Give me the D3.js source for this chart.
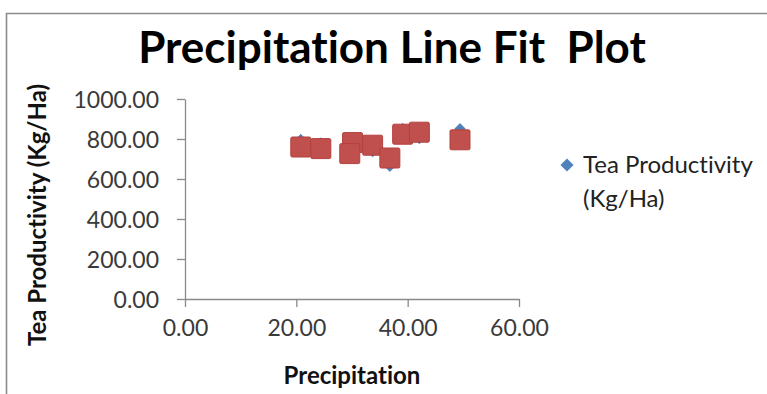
<!DOCTYPE html>
<html>
<head>
<meta charset="utf-8">
<script src="https://cdn.jsdelivr.net/npm/d3@7"></script>
<style>
  html, body { margin: 0; padding: 0; background: #fff; }
  svg { display: block; }
  text { font-variant-ligatures: none; font-feature-settings: "liga" 0, "clig" 0; }
</style>
</head>
<body>
<svg id="chart" width="767" height="394"></svg>
<script>
// Precipitation vs tea productivity: observed values and regression predictions
const precipitation = [20.8, 24.4, 30.1, 29.6, 33.7, 36.8, 39.1, 42.1, 49.4];
const teaProductivity = [797, 780, 772, 741, 737, 664, 852, 802, 851];
const predictedProductivity = [760, 752, 782, 727, 769, 705, 824, 834, 796];
const xTicks = [0, 20, 40, 60];
const yTicks = [0, 200, 400, 600, 800, 1000];
const titleText = "Precipitation Line Fit\u00a0 Plot";
const xTitle = "Precipitation";
const yTitle = "Tea Productivity (Kg/Ha)";
const legendLines = ["Tea Productivity", "(Kg/Ha)"];

const FONT = "Lato, 'Open Sans', sans-serif";
const svg = d3.select("#chart");

const x = d3.scaleLinear().domain([0, 60]).range([185, 519]);
const y = d3.scaleLinear().domain([0, 1000]).range([299, 99]);

// outer chart frame (top and left edges)
svg.append("path")
  .attr("d", "M6.5,394 L6.5,13.5 L767,13.5")
  .attr("fill", "none").attr("stroke", "#8c8c8c").attr("stroke-width", 1.6);

// title
svg.append("text")
  .attr("x", 392).attr("y", 63)
  .attr("text-anchor", "middle")
  .attr("font-family", FONT).attr("font-weight", 700)
  .attr("font-size", 44).attr("fill", "#000")
  .text(titleText);

// axes
const fmt = d3.format(".2f");
const yAxis = d3.axisLeft(y).tickValues(yTicks).tickFormat(fmt).tickSizeInner(8).tickSizeOuter(0).tickPadding(18);
const xAxis = d3.axisBottom(x).tickValues(xTicks).tickFormat(fmt).tickSizeInner(8).tickSizeOuter(0).tickPadding(13);

const gy = svg.append("g").attr("transform", `translate(${x(0)},0)`).call(yAxis);
const gx = svg.append("g").attr("transform", `translate(0,${y(0)})`).call(xAxis);
[gx, gy].forEach(g => {
  g.select(".domain").attr("stroke", "#8a8a8a").attr("stroke-width", 1.3);
  g.selectAll(".tick line").attr("stroke", "#8a8a8a").attr("stroke-width", 1.3);
  g.selectAll(".tick text")
    .attr("font-family", FONT).attr("font-size", 23).attr("fill", "#3a3a3a");
});
gy.selectAll(".tick text").attr("dy", "0.36em");

// axis titles
svg.append("text")
  .attr("x", 352).attr("y", 384)
  .attr("text-anchor", "middle")
  .attr("font-family", FONT).attr("font-weight", 700)
  .attr("font-size", 24).attr("fill", "#111")
  .text(xTitle);

svg.append("text")
  .attr("transform", "translate(46,215) rotate(-90)")
  .attr("text-anchor", "middle")
  .attr("font-family", FONT).attr("font-weight", 700)
  .attr("font-size", 24).attr("fill", "#111")
  .text(yTitle);

// observed points (blue diamonds)
const diamond = d3.symbol().type(d3.symbolDiamond2).size(70);
svg.append("g").selectAll("path")
  .data(precipitation)
  .join("path")
  .attr("d", diamond)
  .attr("transform", (d, i) => `translate(${x(d)},${y(teaProductivity[i])})`)
  .attr("fill", "#4f81bd").attr("stroke", "#4a7ab3").attr("stroke-width", 0.8);

// predicted points (red squares)
const sq = 20;
svg.append("g").selectAll("rect")
  .data(precipitation)
  .join("rect")
  .attr("x", d => x(d) - sq / 2)
  .attr("y", (d, i) => y(predictedProductivity[i]) - sq / 2)
  .attr("width", sq).attr("height", sq)
  .attr("rx", 1.5)
  .attr("fill", "#c0504d").attr("stroke", "#b3403d").attr("stroke-width", 1);

// legend
const lg = svg.append("g");
lg.append("path")
  .attr("d", d3.symbol().type(d3.symbolDiamond2).size(110))
  .attr("transform", "translate(567,165)")
  .attr("fill", "#4f81bd");
lg.selectAll("text")
  .data(legendLines)
  .join("text")
  .attr("x", 583)
  .attr("y", (d, i) => 173 + i * 34)
  .attr("font-family", FONT).attr("font-size", 24).attr("fill", "#222")
  .text(d => d);
</script>
</body>
</html>
